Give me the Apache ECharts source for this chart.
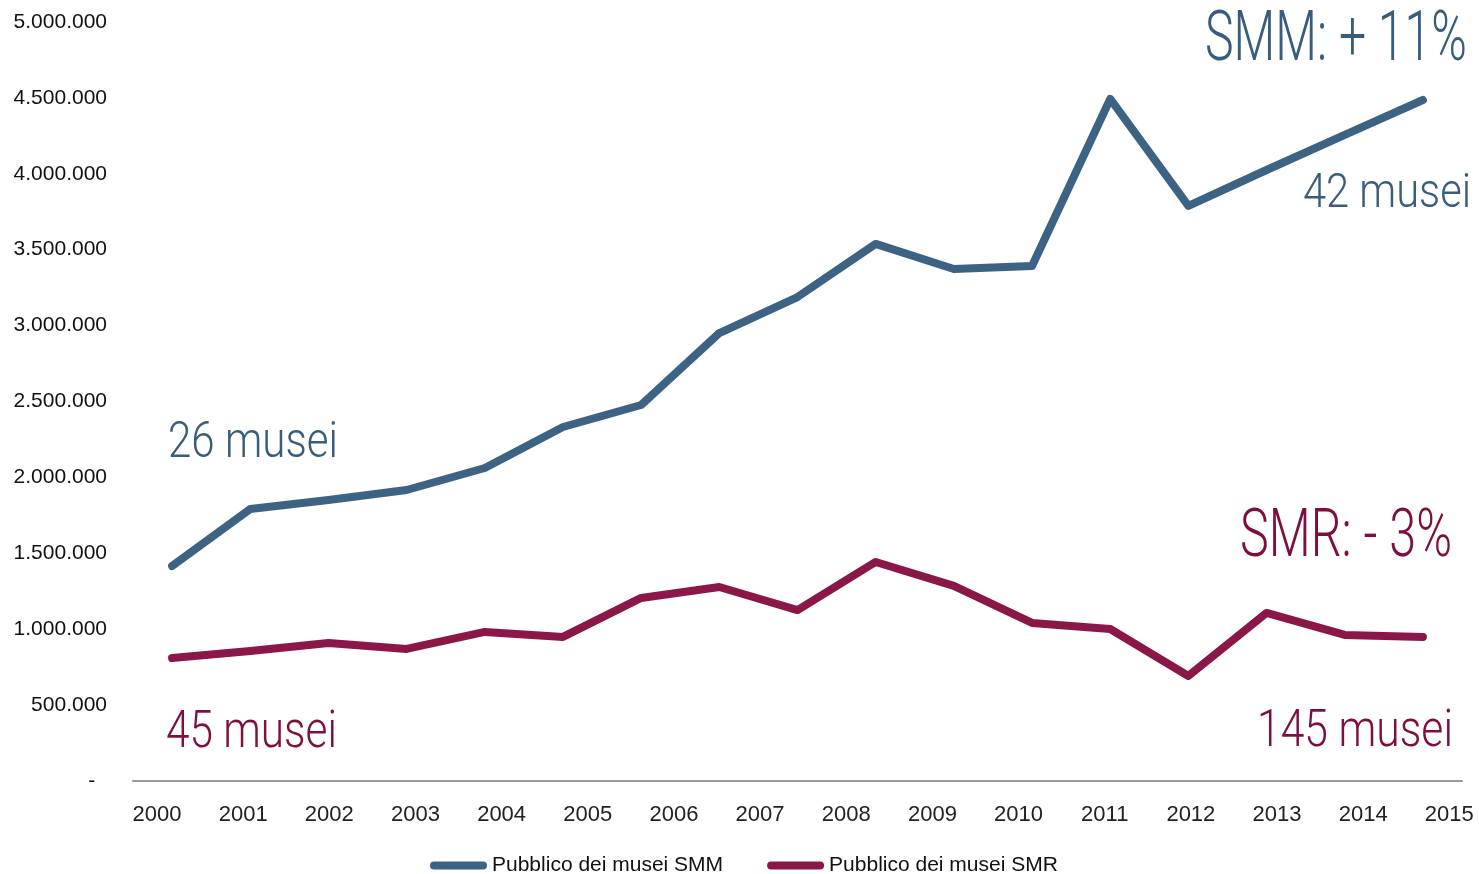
<!DOCTYPE html>
<html>
<head>
<meta charset="utf-8">
<script src="https://cdn.jsdelivr.net/npm/echarts@6/dist/echarts.min.js"></script>
<style>
  html, body { margin: 0; padding: 0; background: #ffffff; }
  #chart { width: 1479px; height: 874px; }
</style>
</head>
<body>
<div id="chart"></div>
<script>
// ---- data ----
const yearLabels = [2000, 2001, 2002, 2003, 2004, 2005, 2006, 2007, 2008, 2009, 2010, 2011, 2012, 2013, 2014, 2015];
const pointIndex = ['1','2','3','4','5','6','7','8','9','10','11','12','13','14','15','16','17'];
const smmName = 'Pubblico dei musei SMM';
const smrName = 'Pubblico dei musei SMR';
const smmValues = [1416000, 1792000, 1851000, 1917000, 2062000, 2332000, 2477000, 2951000, 3188000, 3538000, 3373000, 3393000, 4493000, 3788000, 4025000, 4256000, 4486000];
const smrValues = [810000, 856000, 909000, 870000, 982000, 949000, 1206000, 1278000, 1126000, 1443000, 1285000, 1041000, 1001000, 692000, 1107000, 962000, 949000];
const annotationTexts = ['SMM: + 11%', '42 musei', '26 musei', 'SMR: - 3%', '45 musei', '145 musei'];

// ---- styling / layout ----
const BLUE = '#3D6384', MAROON = '#8B1748';
const BLUE_TXT = '#385D7C', MAROON_TXT = '#7E0E40';
const LABEL_FONT = '"Liberation Sans", Arial, sans-serif';
const ANN_FONT = 'Roboto, "Noto Sans", sans-serif';

function fmtThousands(v) {
  if (v === 0) return '-  ';
  return String(Math.round(v)).replace(/\B(?=(\d{3})+(?!\d))/g, '.');
}

const measureCtx = document.createElement('canvas').getContext('2d');
function condensedText(text, anchorX, centerY, align, fontSize, targetWidth, color) {
  measureCtx.font = '300 ' + fontSize + 'px ' + ANN_FONT;
  const w = measureCtx.measureText(text).width;
  const sx = targetWidth / w;
  return {
    type: 'text',
    x: anchorX,
    y: centerY,
    scaleX: sx,
    style: {
      text: text,
      fontSize: fontSize,
      fontFamily: ANN_FONT,
      fontWeight: 300,
      fill: color,
      align: align,
      verticalAlign: 'middle'
    }
  };
}

const chart = echarts.init(document.getElementById('chart'), null, { renderer: 'canvas' });

const option = {
  backgroundColor: '#ffffff',
  animation: false,
  grid: { left: 133, right: 17, top: 22, bottom: 93, containLabel: false },
  xAxis: [
    {
      type: 'value',
      min: 1999.7216,
      max: 2015.147,
      position: 'bottom',
      axisLine: { show: true, onZero: false, lineStyle: { color: '#9a9a9a', width: 2 } },
      axisTick: { show: false },
      splitLine: { show: false },
      axisLabel: {
        customValues: yearLabels,
        formatter: v => String(v),
        margin: 23,
        fontSize: 22,
        fontFamily: LABEL_FONT,
        color: '#222222'
      }
    },
    {
      type: 'category',
      data: pointIndex,
      boundaryGap: true,
      show: false,
      position: 'bottom'
    }
  ],
  yAxis: {
    type: 'value',
    min: 0,
    max: 5000000,
    interval: 500000,
    axisLine: { show: false },
    axisTick: { show: false },
    splitLine: { show: false },
    axisLabel: {
      formatter: fmtThousands,
      margin: 26,
      fontSize: 21,
      fontFamily: LABEL_FONT,
      color: '#111111',
      align: 'right',
      padding: [3, 0, 0, 0]
    }
  },
  legend: {
    left: 425,
    top: 850,
    itemWidth: 57,
    itemHeight: 8,
    itemGap: 44,
    icon: 'path://M4,0 H53 A4,4 0 0 1 53,8 H4 A4,4 0 0 1 4,0 Z',
    textStyle: { fontSize: 21, fontFamily: LABEL_FONT, color: '#111111' },
    data: [smmName, smrName]
  },
  series: [
    {
      name: smmName,
      type: 'line',
      xAxisIndex: 1,
      data: smmValues,
      symbol: 'none',
      color: BLUE,
      itemStyle: { color: BLUE },
      lineStyle: { color: BLUE, width: 8, cap: 'round', join: 'round' }
    },
    {
      name: smrName,
      type: 'line',
      xAxisIndex: 1,
      data: smrValues,
      symbol: 'none',
      color: MAROON,
      itemStyle: { color: MAROON },
      lineStyle: { color: MAROON, width: 8, cap: 'round', join: 'round' }
    }
  ],
  graphic: [
    condensedText(annotationTexts[0], 1467, 42, 'right', 70, 262, BLUE_TXT),
    condensedText(annotationTexts[1], 1471, 195, 'right', 48, 168, BLUE_TXT),
    condensedText(annotationTexts[2], 168, 444, 'left', 50, 170, BLUE_TXT),
    condensedText(annotationTexts[3], 1452, 539, 'right', 67, 212, MAROON_TXT),
    condensedText(annotationTexts[4], 166, 734, 'left', 52, 171, MAROON_TXT),
    condensedText(annotationTexts[5], 1453, 733, 'right', 52, 196, MAROON_TXT)
  ]
};

chart.setOption(option);
</script>
</body>
</html>
